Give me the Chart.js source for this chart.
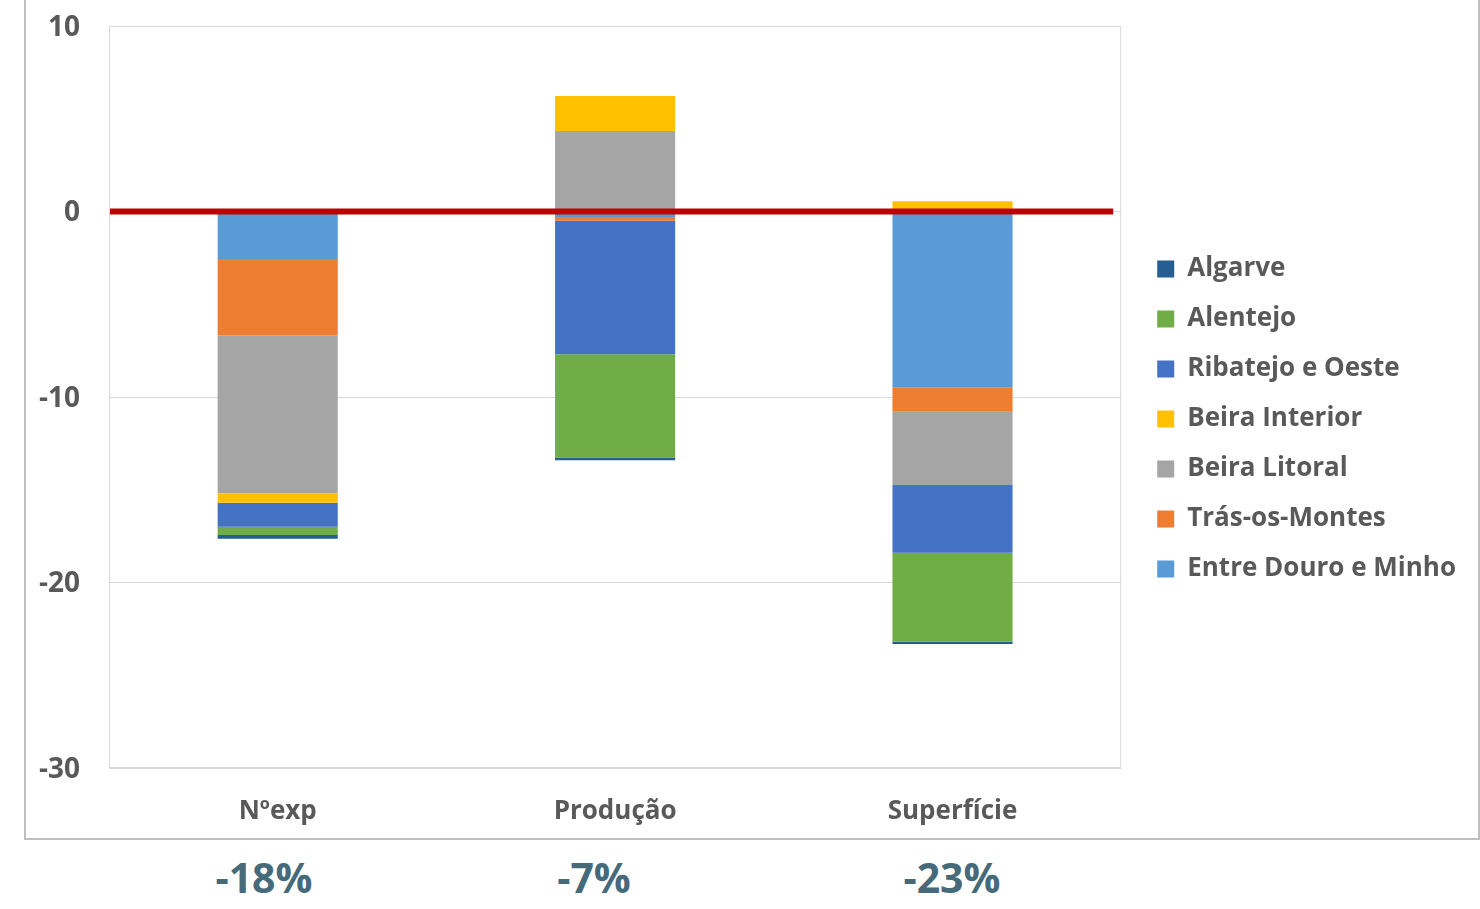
<!DOCTYPE html>
<html>
<head>
<meta charset="utf-8">
<script src="https://cdn.jsdelivr.net/npm/chart.js@4/dist/chart.umd.min.js"></script>
<style>
  html, body { margin: 0; padding: 0; background: #fff; overflow: hidden; }
  #frame {
    position: absolute; left: 24px; top: -2px;
    width: 1456px; height: 842px; box-sizing: border-box;
    border: 2px solid #bfbfbf;
  }
  #frame canvas { display: block; }
  .change {
    position: absolute; top: 849px; width: 160px; margin-left: -80px;
    text-align: center; font: bold 41px "Open Sans", sans-serif; color: #456b7b;
  }
</style>
</head>
<body>
<div id="frame"><canvas id="chart" width="1452" height="838"></canvas></div>
<div id="changes"></div>
<script>
const categories = ["Nºexp", "Produção", "Superfície"];
const changeLabels = ["-18%", "-7%", "-23%"];
const changeX = [264, 594, 952];

// stacking order: nearest to zero first
const regions = [
  "Entre Douro e Minho",
  "Trás-os-Montes",
  "Beira Litoral",
  "Beira Interior",
  "Ribatejo e Oeste",
  "Alentejo",
  "Algarve",
];
const entreDouroMinho = [-2.56, -0.3, -9.5];
const trasOsMontes = [-4.13, -0.2, -1.29];
const beiraLitoral = [-8.5, 4.34, -3.96];
const beiraInterior = [-0.51, 1.89, 0.55];
const ribatejoOeste = [-1.29, -7.19, -3.65];
const alentejo = [-0.45, -5.57, -4.8];
const algarve = [-0.2, -0.15, -0.12];
const regionValues = [entreDouroMinho, trasOsMontes, beiraLitoral, beiraInterior, ribatejoOeste, alentejo, algarve];
const regionColors = ["#5B9BD5", "#ED7D31", "#A5A5A5", "#FFC000", "#4472C4", "#70AD47", "#255E91"];

const yTicks = [10, 0, -10, -20, -30];

const textColor = "#595959";
const fontFamily = '"Open Sans", sans-serif';

// percentage notes under the frame
const changesDiv = document.getElementById("changes");
changeLabels.forEach((txt, i) => {
  const d = document.createElement("div");
  d.className = "change";
  d.style.left = changeX[i] + "px";
  d.textContent = txt;
  changesDiv.appendChild(d);
});

const plotFrame = {
  id: "plotFrame",
  beforeDatasetsDraw(chart) {
    const { ctx, chartArea: a } = chart;
    ctx.save();
    ctx.strokeStyle = "#d9d9d9";
    ctx.lineWidth = 1;
    ctx.strokeRect(a.left + 0.5, a.top + 0.5, a.width - 1, a.height - 1);
    ctx.restore();
  },
  afterDatasetsDraw(chart) {
    const { ctx, chartArea: a } = chart;
    const y0 = chart.scales.y.getPixelForValue(0);
    ctx.save();
    ctx.strokeStyle = "#C00000";
    ctx.lineWidth = 6;
    ctx.beginPath();
    ctx.moveTo(a.left + 1, y0);
    ctx.lineTo(a.right - 8, y0);
    ctx.stroke();
    ctx.restore();
  },
};

const datasets = regions.map((name, i) => ({
  label: name,
  data: regionValues[i],
  backgroundColor: regionColors[i],
  borderWidth: 0,
  categoryPercentage: 1,
  barPercentage: 0.356,
}));

new Chart(document.getElementById("chart"), {
  type: "bar",
  data: { labels: categories, datasets: datasets },
  plugins: [plotFrame],
  options: {
    responsive: false,
    animation: false,
    layout: { padding: { top: 0, bottom: 0, right: 12, left: 0 } },
    plugins: {
      tooltip: { enabled: false },
      legend: {
        position: "right",
        reverse: true,
        maxWidth: 420,
        labels: {
          boxWidth: 17,
          boxHeight: 17,
          padding: 24,
          color: textColor,
          font: { family: fontFamily, size: 26, weight: "bold" },
        },
      },
    },
    scales: {
      x: {
        stacked: true,
        afterFit(scale) { scale.height = 70; },
        grid: { display: false, drawTicks: false },
        border: { display: false },
        ticks: {
          padding: 28,
          color: textColor,
          font: { family: fontFamily, size: 26, weight: "bold" },
        },
      },
      y: {
        stacked: true,
        min: -30,
        max: 10,
        afterFit(scale) {
          scale.width = 83;
          scale.paddingTop = 26;
          scale.paddingBottom = 0;
        },
        afterBuildTicks(scale) { scale.ticks = yTicks.map((v) => ({ value: v })); },
        grid: { color: "#d9d9d9", lineWidth: 1, drawTicks: false },
        border: { display: false },
        ticks: {
          padding: 29,
          labelOffset: 2,
          color: textColor,
          font: { family: fontFamily, size: 28, weight: "bold" },
        },
      },
      yRight: {
        position: "right",
        display: true,
        grid: { display: false, drawTicks: false },
        border: { display: false },
        ticks: { display: false },
        afterFit(scale) { scale.width = 12; },
      },
    },
  },
});
</script>
</body>
</html>
